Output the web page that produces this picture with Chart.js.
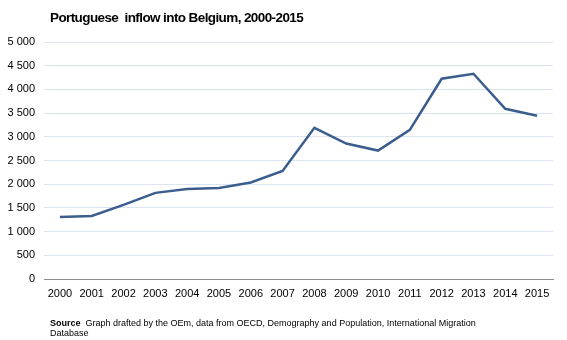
<!DOCTYPE html>
<html>
<head>
<meta charset="utf-8">
<script src="https://cdn.jsdelivr.net/npm/chart.js@4"></script>
<style>
    body { margin: 0; background: #fff; }
    #wrap { position: relative; width: 567px; height: 340px; }
    #title {
        position: absolute; left: 50px; top: 10px;
        font: bold 13.5px "Liberation Sans", Arial, sans-serif; color: #000;
        letter-spacing: -0.6px;
    }
    #source {
        position: absolute; left: 50px; top: 318px; width: 450px;
        font: 9px "Liberation Sans", Arial, sans-serif; color: #000; line-height: 10px;
    }
    canvas { position: absolute; left: 0; top: 0; }
</style>
</head>
<body>
<div id="wrap">
    <canvas id="chart" width="567" height="340"></canvas>
    <div id="title">Portuguese&nbsp; inflow into Belgium, 2000-2015</div>
    <div id="source"><b>Source</b>&nbsp; Graph drafted by the OEm, data from OECD, Demography and Population, International Migration Database</div>
</div>
<script>
// yearly inflow of Portuguese nationals
const years = ['2000', '2001', '2002', '2003', '2004', '2005', '2006', '2007',
    '2008', '2009', '2010', '2011', '2012', '2013', '2014', '2015'];
const inflow = [1310, 1330, 1565, 1817, 1900, 1922, 2035, 2281,
    3190, 2858, 2710, 3147, 4225, 4330, 3591, 3443];
const yTicks = [0, 500, 1000, 1500, 2000, 2500, 3000, 3500, 4000, 4500, 5000];

const fmt = (v) => String(v).replace(/\B(?=(\d{3})+(?!\d))/g, ' ');

const ctx = document.getElementById('chart').getContext('2d');
new Chart(ctx, {
    type: 'line',
    data: {
        labels: years,
        datasets: [{
            data: inflow,
            borderColor: '#3b5e8e',
            borderWidth: 2.5,
            pointRadius: 0,
            tension: 0,
            fill: false,
        }],
    },
    options: {
        responsive: false,
        animation: false,
        layout: { padding: { left: 0, right: 14, top: 42, bottom: 36 } },
        plugins: { legend: { display: false }, tooltip: { enabled: false } },
        scales: {
            x: {
                offset: true,
                grid: { display: false, drawTicks: false },
                border: { color: '#8c8c8c', width: 1 },
                ticks: {
                    color: '#000', padding: 8, maxRotation: 0, autoSkip: false,
                    font: { family: '"Liberation Sans", Arial', size: 11 },
                },
                afterFit: (s) => { s.height = 25; },
            },
            y: {
                min: 0,
                max: 5000,
                afterBuildTicks: (s) => { s.ticks = yTicks.map((v) => ({ value: v })); },
                grid: { color: '#dbe5f1', lineWidth: 1, drawTicks: false },
                border: { display: false },
                ticks: {
                    color: '#000', padding: 9,
                    font: { family: '"Liberation Sans", Arial', size: 11 },
                    callback: (v) => fmt(v),
                },
                afterFit: (s) => { s.width = 44; },
            },
        },
    },
});
</script>
</body>
</html>
